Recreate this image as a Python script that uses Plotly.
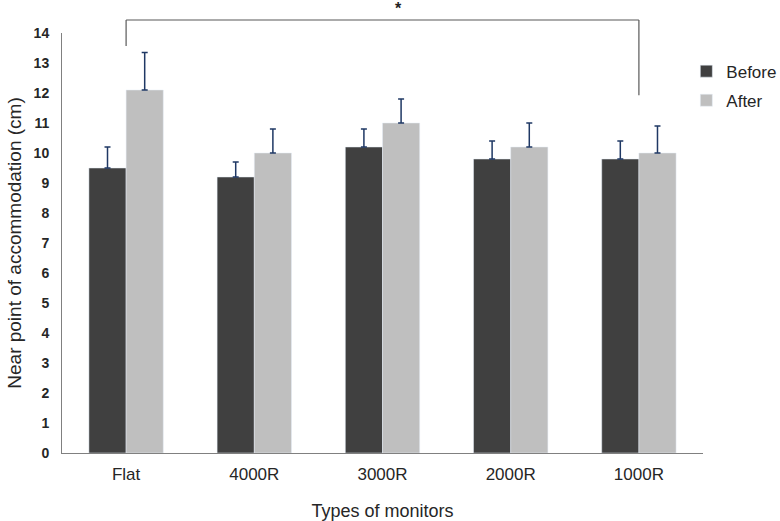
import plotly.graph_objects as go

categories = ["Flat", "4000R", "3000R", "2000R", "1000R"]
before = [9.5, 9.2, 10.2, 9.8, 9.8]
before_err = [0.7, 0.5, 0.6, 0.6, 0.6]
after = [12.1, 10.0, 11.0, 10.2, 10.0]
after_err = [1.25, 0.8, 0.8, 0.8, 0.9]
y_ticks = list(range(0, 15))

font_family = "Liberation Sans, Arial, sans-serif"
err_color = "#1f3864"

fig = go.Figure()
fig.add_trace(go.Bar(
    name="Before", x=categories, y=before, marker_color="#404040", legendgroup="b",
    error_y=dict(type="data", array=before_err, arrayminus=[0] * len(before_err),
                 symmetric=False, color=err_color, thickness=1.5, width=3),
))
fig.add_trace(go.Bar(
    name="After", x=categories, y=after, marker_color="#bfbfbf", legendgroup="a",
    error_y=dict(type="data", array=after_err, arrayminus=[0] * len(after_err),
                 symmetric=False, color=err_color, thickness=1.5, width=3),
))

# significance bracket between Flat and 1000R
line_style = dict(color="#595959", width=1.2)
fig.add_shape(type="line", xref="paper", yref="paper", x0=0.1, x1=0.9, y0=1.031, y1=1.031, line=line_style)
fig.add_shape(type="line", xref="paper", yref="paper", x0=0.1, x1=0.1, y0=1.031, y1=0.969, line=line_style)
fig.add_shape(type="line", xref="paper", yref="paper", x0=0.9, x1=0.9, y0=1.031, y1=0.852, line=line_style)
fig.add_annotation(text="<b>*</b>", xref="paper", yref="paper", x=0.525, y=1.033,
                   yanchor="bottom", showarrow=False,
                   font=dict(size=16, color="#222222", family=font_family))

fig.update_layout(
    width=780, height=521,
    margin=dict(l=62, r=77, t=33, b=68, autoexpand=False),
    paper_bgcolor="white", plot_bgcolor="white",
    barmode="group", bargap=0.42, bargroupgap=0,
    font=dict(family=font_family, color="#262626"),
    showlegend=True,
    legend=dict(x=0.974, y=0.951, xanchor="left", yanchor="top",
                font=dict(size=17, color="#262626"), traceorder="grouped",
                tracegroupgap=4, itemwidth=30, bgcolor="rgba(0,0,0,0)"),
)
fig.update_xaxes(
    showline=True, linecolor="#808080", linewidth=1, ticks="", showgrid=False,
    tickfont=dict(size=17, color="#262626"), ticklabelstandoff=6,
    title=dict(text="Types of monitors", font=dict(size=18, color="#262626"), standoff=22),
    automargin=False,
)
fig.update_yaxes(
    range=[0, 14], tickvals=y_ticks, showline=True, linecolor="#808080", linewidth=1,
    ticks="", showgrid=False, zeroline=False,
    tickfont=dict(size=14, color="#262626", weight="bold"), ticklabelstandoff=9,
    title=dict(text="Near point of accommodation (cm)", font=dict(size=19, color="#262626"), standoff=6),
    automargin=False,
)

fig.write_html("out.html", config={"displayModeBar": False},
               post_script="document.body.style.margin='0';")
